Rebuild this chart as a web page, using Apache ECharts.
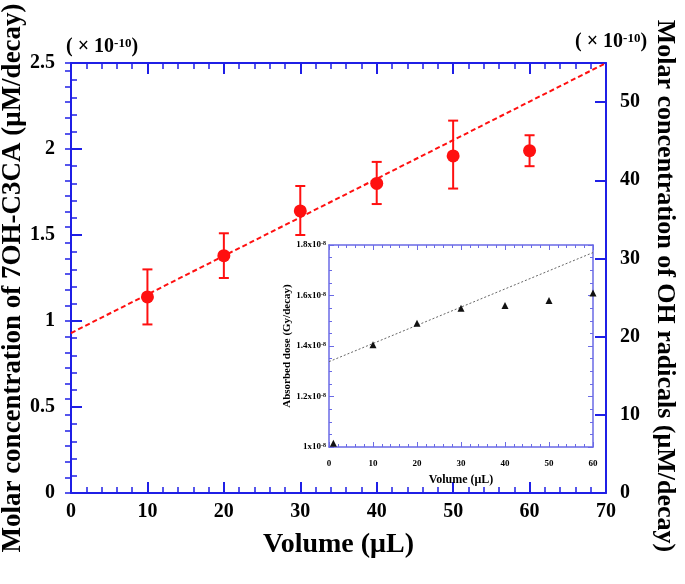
<!DOCTYPE html>
<html>
<head>
<meta charset="utf-8">
<script src="https://cdn.jsdelivr.net/npm/echarts@6/dist/echarts.min.js"></script>
<style>html,body{margin:0;padding:0;background:#fff;}#c{width:685px;height:584px;}</style>
</head>
<body>
<div id="c"></div>
<script>
// ---- data ----
const volumes = [10, 20, 30, 40, 50, 60];
const c7ohMean = [1.14, 1.38, 1.64, 1.80, 1.96, 1.99];
const c7ohLow  = [0.98, 1.25, 1.50, 1.68, 1.77, 1.90];
const c7ohHigh = [1.30, 1.51, 1.785, 1.925, 2.165, 2.08];
const fitX = [0, 70];
const fitY = [0.93, 2.5];

const insetVolumes = [1, 10, 20, 30, 40, 50, 60];
const insetDose = [1.015, 1.405, 1.49, 1.55, 1.56, 1.58, 1.61];
const insetFitX = [0, 60];
const insetFitY = [1.338, 1.77];

const mainXTicks = [0, 10, 20, 30, 40, 50, 60, 70];
const leftYTicks = [0, 0.5, 1, 1.5, 2, 2.5];
const rightYTicks = [0, 10, 20, 30, 40, 50];

// ---- style ----
const FONT = '"Liberation Serif", "DejaVu Serif", serif';
const BLUE = '#1f1fe6';
const IBLUE = '#6a6ae6';
const RED = '#ff1010';

const chart = echarts.init(document.getElementById('c'), null, {renderer: 'canvas'});

function mainAxisCommon(extra) {
  return Object.assign({
    axisLine: {show: true, onZero: false, lineStyle: {color: BLUE, width: 2}},
    axisTick: {show: true, inside: true, length: 11, lineStyle: {color: BLUE, width: 2}},
    minorTick: {show: true, splitNumber: 5, length: 6, lineStyle: {color: BLUE, width: 1.5}},
    splitLine: {show: false},
    minorSplitLine: {show: false},
    axisLabel: {color: '#000', fontFamily: FONT, fontWeight: 'bold', fontSize: 20},
    nameTextStyle: {color: '#000', fontFamily: FONT, fontWeight: 'bold', fontSize: 25}
  }, extra);
}
function insetAxisCommon(extra) {
  return Object.assign({
    axisLine: {show: true, onZero: false, lineStyle: {color: IBLUE, width: 1.5}},
    axisTick: {show: true, inside: true, length: 5, lineStyle: {color: IBLUE, width: 1}},
    minorTick: {show: true, splitNumber: 5, length: 3, lineStyle: {color: IBLUE, width: 1}},
    splitLine: {show: false},
    minorSplitLine: {show: false},
    axisLabel: {color: '#000', fontFamily: FONT, fontWeight: 'bold', fontSize: 9},
    nameTextStyle: {color: '#000', fontFamily: FONT, fontWeight: 'bold', fontSize: 11}
  }, extra);
}

const supRich = (big, small, lh) => ({
  a: {fontFamily: FONT, fontWeight: 'bold', fontSize: big, lineHeight: big, fill: '#000', color: '#000', verticalAlign: 'bottom'},
  s: {fontFamily: FONT, fontWeight: 'bold', fontSize: small, lineHeight: small, fill: '#000', color: '#000', verticalAlign: 'top', padding: [0, 0, lh, 0]}
});

const option = {
  animation: false,
  backgroundColor: '#fff',
  grid: [
    {left: 71, top: 63, width: 535, height: 430, containLabel: false, outerBoundsMode: 'none'},
    {left: 329, top: 245, width: 264, height: 202, containLabel: false, outerBoundsMode: 'none', show: true,
     backgroundColor: '#fff', borderWidth: 0, z: 10}
  ],
  xAxis: [
    mainAxisCommon({gridIndex: 0, type: 'value', position: 'bottom', min: mainXTicks[0], max: mainXTicks[mainXTicks.length-1], interval: 10,
      axisLabel: {color: '#000', fontFamily: FONT, fontWeight: 'bold', fontSize: 20, margin: 9},
      name: 'Volume (μL)', nameLocation: 'middle', nameGap: 38,
      nameTextStyle: {color: '#000', fontFamily: FONT, fontWeight: 'bold', fontSize: 28}}),
    mainAxisCommon({gridIndex: 0, type: 'value', position: 'top', min: 0, max: 70, interval: 10,
      axisLabel: {show: false}}),
    insetAxisCommon({gridIndex: 1, type: 'value', position: 'bottom', min: 0, max: 60, interval: 10, z: 11,
      axisLabel: {color: '#000', fontFamily: FONT, fontWeight: 'bold', fontSize: 9, margin: 12},
      name: 'Volume (μL)', nameLocation: 'middle', nameGap: 27,
      nameTextStyle: {color: '#000', fontFamily: FONT, fontWeight: 'bold', fontSize: 12}}),
    insetAxisCommon({gridIndex: 1, type: 'value', position: 'top', min: 0, max: 60, interval: 10, z: 11,
      axisLabel: {show: false}})
  ],
  yAxis: [
    mainAxisCommon({gridIndex: 0, type: 'value', position: 'left', min: leftYTicks[0], max: leftYTicks[leftYTicks.length-1], interval: 0.5,
      axisLabel: {color: '#000', fontFamily: FONT, fontWeight: 'bold', fontSize: 20, margin: 16},
      name: 'Molar concentration of 7OH-C3CA (μM/decay)', nameLocation: 'middle', nameGap: 44, nameMoveOverlap: false,
      nameTextStyle: {color: '#000', fontFamily: FONT, fontWeight: 'bold', fontSize: 27}}),
    mainAxisCommon({gridIndex: 0, type: 'value', position: 'right', min: 0, max: 55, interval: 10,
      minorTick: {show: false},
      axisLabel: {color: '#000', fontFamily: FONT, fontWeight: 'bold', fontSize: 20, margin: 14,
        formatter: v => (rightYTicks.indexOf(v) >= 0 ? String(v) : '')},
      name: 'Molar concentration of OH radicals (μM/decay)', nameLocation: 'middle', nameGap: 46, nameRotate: -90,
      nameTextStyle: {color: '#000', fontFamily: FONT, fontWeight: 'bold', fontSize: 26, padding: [0, 0, 0, 16]}}),
    mainAxisCommon({gridIndex: 0, type: 'value', position: 'right', min: 0, max: 55, interval: 2,
      axisLine: {show: false}, minorTick: {show: false},
      axisTick: {show: true, inside: true, length: 6, lineStyle: {color: BLUE, width: 1.5}},
      axisLabel: {show: false}}),
    insetAxisCommon({gridIndex: 1, type: 'value', position: 'left', min: 1, max: 1.8, interval: 0.2, z: 11,
      minorTick: {show: true, splitNumber: 4, length: 3, lineStyle: {color: IBLUE, width: 1}},
      axisLabel: {color: '#000', fontFamily: FONT, fontWeight: 'bold', fontSize: 9, margin: 3,
        formatter: v => '{a|' + (Math.abs(v - 1) < 1e-9 ? '1' : v.toFixed(1)) + 'x10}{s|-8}',
        rich: supRich(9, 6, 5)},
      name: 'Absorbed dose (Gy/decay)', nameLocation: 'middle', nameGap: 36,
      nameTextStyle: {color: '#000', fontFamily: FONT, fontWeight: 'bold', fontSize: 11}}),
    insetAxisCommon({gridIndex: 1, type: 'value', position: 'right', min: 1, max: 1.8, interval: 0.2, z: 11,
      minorTick: {show: true, splitNumber: 4, length: 3, lineStyle: {color: IBLUE, width: 1}},
      axisLabel: {show: false}})
  ],
  series: [
    {
      type: 'line', xAxisIndex: 0, yAxisIndex: 0, z: 3,
      data: fitX.map((x, i) => [x, fitY[i]]),
      symbol: 'none', lineStyle: {color: RED, width: 2, type: [5, 3]}
    },
    {
      type: 'custom', xAxisIndex: 0, yAxisIndex: 0, z: 4,
      data: volumes.map((x, i) => [x, c7ohLow[i], c7ohHigh[i]]),
      renderItem: function (params, api) {
        const lo = api.coord([api.value(0), api.value(1)]);
        const hi = api.coord([api.value(0), api.value(2)]);
        const hw = 5;
        const st = {stroke: RED, lineWidth: 2};
        return {type: 'group', children: [
          {type: 'line', shape: {x1: lo[0], y1: lo[1], x2: hi[0], y2: hi[1]}, style: st},
          {type: 'line', shape: {x1: lo[0]-hw, y1: lo[1], x2: lo[0]+hw, y2: lo[1]}, style: st},
          {type: 'line', shape: {x1: hi[0]-hw, y1: hi[1], x2: hi[0]+hw, y2: hi[1]}, style: st}
        ]};
      }
    },
    {
      type: 'scatter', xAxisIndex: 0, yAxisIndex: 0, z: 5,
      data: volumes.map((x, i) => [x, c7ohMean[i]]),
      symbol: 'circle', symbolSize: 13, itemStyle: {color: RED, opacity: 1}
    },
    {
      type: 'line', xAxisIndex: 2, yAxisIndex: 3, z: 12,
      data: insetFitX.map((x, i) => [x, insetFitY[i]]),
      symbol: 'none', lineStyle: {color: '#666', width: 1, type: [2, 2]}
    },
    {
      type: 'scatter', xAxisIndex: 2, yAxisIndex: 3, z: 13,
      data: insetVolumes.map((x, i) => [x, insetDose[i]]),
      symbol: 'triangle', symbolSize: 7, itemStyle: {color: '#111', opacity: 1}
    }
  ],
  graphic: [
    {type: 'text', left: 66, top: 37, z: 20,
     style: {text: '{a|( × 10}{s|-10}{a|)}', rich: supRich(20, 13, 10)}},
    {type: 'text', left: 575, top: 32, z: 20,
     style: {text: '{a|( × 10}{s|-10}{a|)}', rich: supRich(20, 13, 10)}}
  ]
};
chart.setOption(option);
</script>
</body>
</html>
